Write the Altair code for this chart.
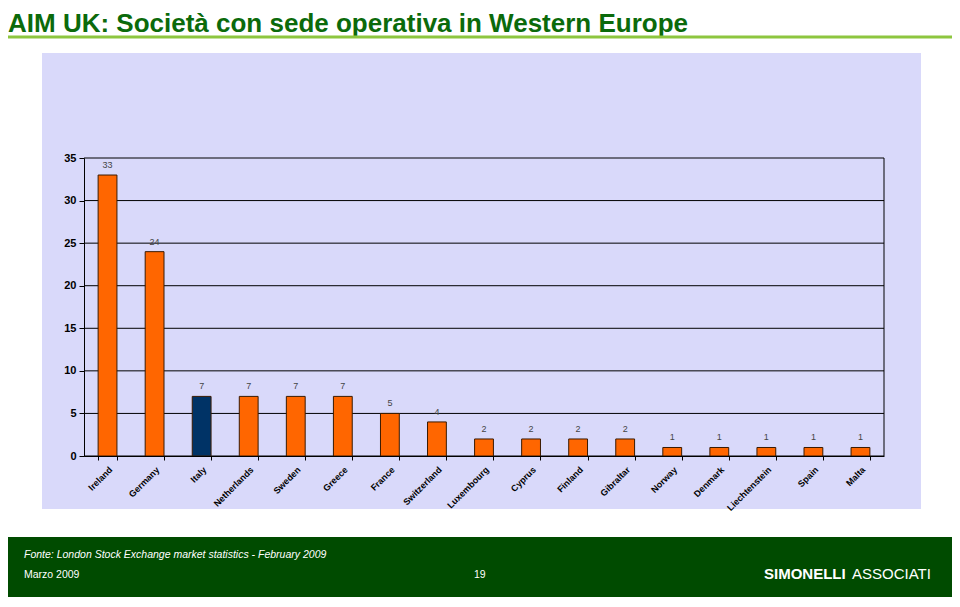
import altair as alt
import pandas as pd

countries = ["Ireland", "Germany", "Italy", "Netherlands", "Sweden", "Greece", "France",
             "Switzerland", "Luxembourg", "Cyprus", "Finland", "Gibraltar", "Norway",
             "Denmark", "Liechtenstein", "Spain", "Malta"]
values = [33, 24, 7, 7, 7, 7, 5, 4, 2, 2, 2, 2, 1, 1, 1, 1, 1]
highlight = "Italy"
y_ticks = [0, 5, 10, 15, 20, 25, 30, 35]

title_text = "AIM UK: Società con sede operativa in Western Europe"
source_text = "Fonte: London Stock Exchange market statistics - February 2009"
date_text = "Marzo 2009"
page_text = "19"
brand_bold = "SIMONELLI"
brand_light = "ASSOCIATI"

df = pd.DataFrame({"country": countries, "value": values})
grid_df = pd.DataFrame({"value": y_ticks})
one = pd.DataFrame({"k": [0]})

W, H = 800, 298
FONT = "Liberation Sans"

x_scale = alt.Scale(paddingInner=0.6, paddingOuter=0.3)
y_scale = alt.Scale(domain=[0, 35], nice=False)
y_axis = alt.Axis(values=y_ticks, grid=False, domainColor="black", tickColor="black",
                  tickSize=5, labelFont=FONT, labelFontSize=11, labelFontWeight="bold",
                  labelColor="black", labelPadding=3, title=None, zindex=1)
x_axis = alt.Axis(title=None, labelAngle=-45, tickBand="extent", grid=False,
                  domainColor="black", tickColor="black", tickSize=4, labelFont=FONT,
                  labelFontSize=9, labelFontWeight="bold", labelColor="black",
                  labelPadding=5, zindex=1)


def rect(x, x2, y, y2, color):
    return alt.Chart(one).mark_rect(color=color).encode(
        x=alt.value(x), x2=alt.value(x2), y=alt.value(y), y2=alt.value(y2))


def label(txt, x, y, size, color="white", weight="normal", style="normal", align="left", font=FONT):
    return alt.Chart(one).mark_text(text=txt, align=align, baseline="alphabetic",
                                    font=font, fontSize=size, fontWeight=weight,
                                    fontStyle=style, color=color).encode(
        x=alt.value(x), y=alt.value(y))


footer = rect(-76, 868, 379, 460, "#004B00")
panel = rect(-42, 837, -105, 351, "#D9D9FA")
title = label(title_text, -76, -126.5, 26, color="#0B6A0B", weight="bold")
green_line = alt.Chart(one).mark_rule(color="#8DC63F", strokeWidth=3).encode(
    x=alt.value(-76), x2=alt.value(868), y=alt.value(-121))

grid = alt.Chart(grid_df).mark_rule(color="black", strokeWidth=1).encode(
    y=alt.Y("value:Q", scale=y_scale, axis=y_axis))
right_border = alt.Chart(one).mark_rule(color="black", strokeWidth=1).encode(
    x=alt.value(W), y=alt.value(0), y2=alt.value(H))

bars = alt.Chart(df).mark_bar(stroke="#3A1A00", strokeWidth=1).encode(
    x=alt.X("country:N", sort=countries, scale=x_scale, axis=x_axis),
    y=alt.Y("value:Q", scale=y_scale, axis=y_axis),
    color=alt.condition(alt.datum.country == highlight, alt.value("#003366"), alt.value("#FF6600")),
)
bar_labels = alt.Chart(df).mark_text(baseline="bottom", dy=-5, font=FONT, fontSize=9,
                                     color="#444444").encode(
    x=alt.X("country:N", sort=countries, scale=x_scale, axis=x_axis),
    y=alt.Y("value:Q", scale=y_scale, axis=y_axis),
    text="value:Q",
)

src = label(source_text, -60, 400, 10.5, style="italic")
date = label(date_text, -60, 420, 10.5)
page = label(page_text, 390, 420, 10.5)
brand1 = label(brand_bold, 680, 421, 15, weight="bold")
brand2 = label(brand_light, 768, 421, 15)

chart = alt.layer(
    footer, panel, title, green_line, grid, right_border, bars, bar_labels,
    src, date, page, brand1, brand2
).properties(
    width=W, height=H,
    autosize=alt.AutoSizeParams(type="none"),
    padding={"left": 76, "top": 150, "right": 68, "bottom": 141},
    background="white",
).configure_view(stroke=None)

chart.save("out.html", embed_options={"renderer": "svg", "actions": False})
